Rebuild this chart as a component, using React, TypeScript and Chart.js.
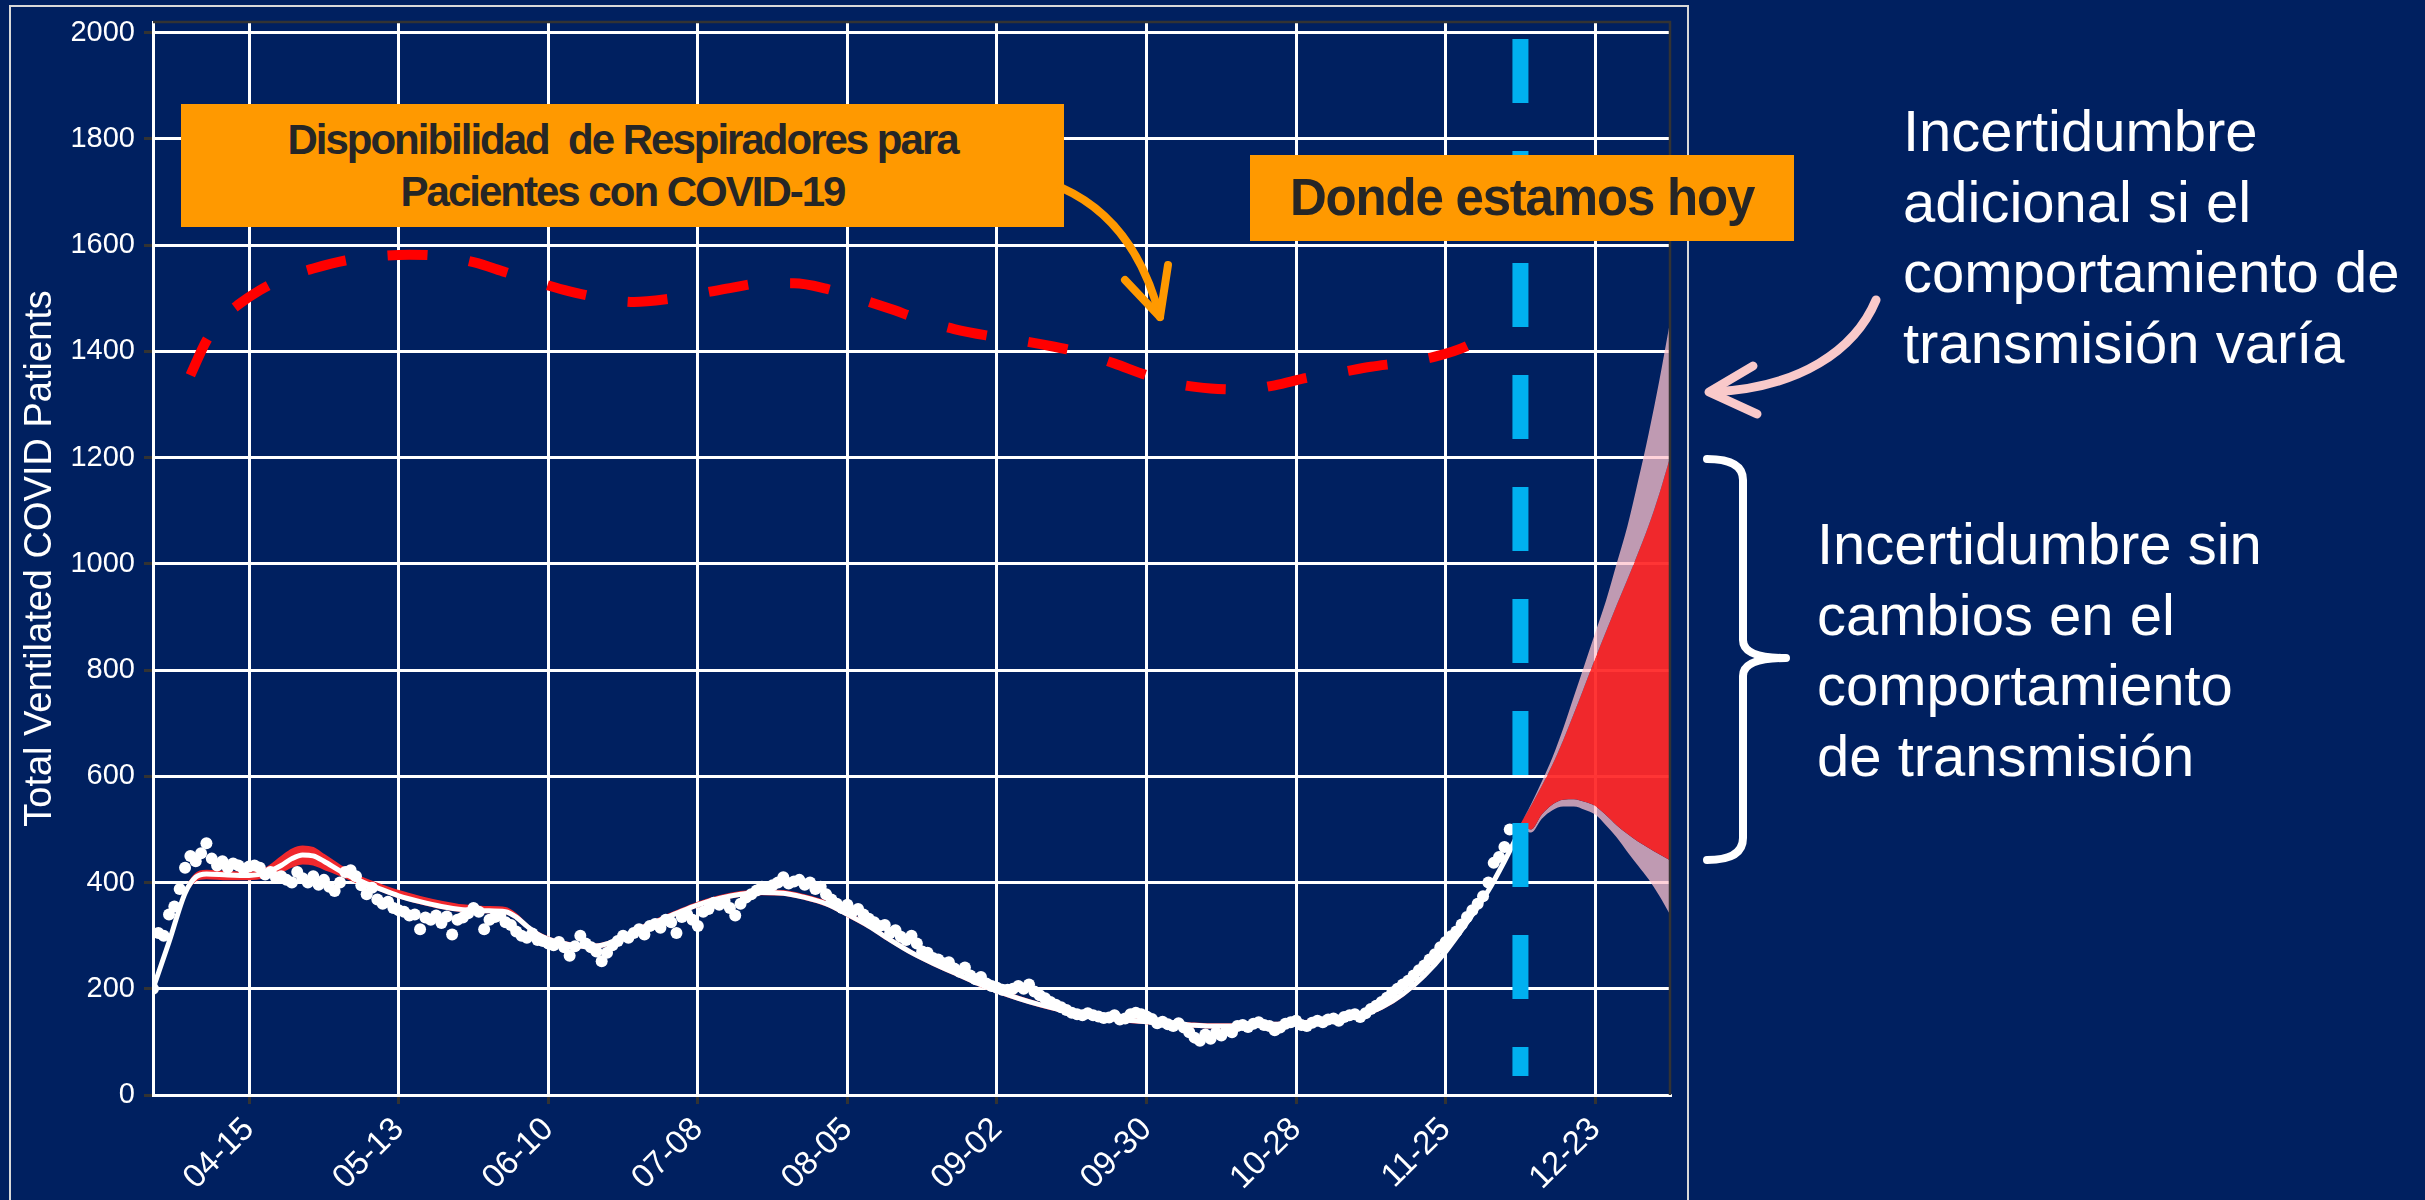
import React, { useEffect, useRef } from 'react';
import { Chart, registerables } from 'chart.js';

Chart.register(...registerables);

const FONT = '"Liberation Sans", Arial, Helvetica, sans-serif';

// x axis: days since 03-28
const xMinDay = 0;
const xMaxDay = 284;
const xTickDays = [18, 46, 74, 102, 130, 158, 186, 214, 242, 270];
const xTickLabels = ['04-15', '05-13', '06-10', '07-08', '08-05', '09-02', '09-30', '10-28', '11-25', '12-23'];
const yMinValue = 0;
const yMaxValue = 2020;
const yTickValues = [0, 200, 400, 600, 800, 1000, 1200, 1400, 1600, 1800, 2000];
const yAxisTitle = 'Total Ventilated COVID Patients';

// observed daily values, starting at day 0 (03-28)
const observedStartDay = 0;
const observedValues = [
  200, 305, 300, 340, 355, 388, 428, 450, 440, 455,
  474, 445, 432, 440, 428, 436, 432, 425, 430, 432,
  428, 415, 420, 410, 412, 405, 400, 420, 408, 400,
  412, 396, 405, 392, 384, 400, 420, 423, 412, 395,
  378, 390, 368, 360, 364, 352, 348, 345, 338, 340,
  312, 334, 330, 338, 324, 336, 302, 330, 334, 342,
  352, 345, 312, 330, 335, 338, 325, 320, 308, 300,
  296, 304, 292, 290, 285, 282, 288, 278, 262, 280,
  300, 285, 278, 270, 252, 268, 282, 290, 300, 296,
  305, 312, 302, 318, 322, 315, 330, 325, 305, 335,
  340, 330, 318, 345, 350, 362, 358, 365, 352, 338,
  360, 372, 378, 385, 392, 388, 395, 400, 410, 398,
  402, 405, 396, 400, 388, 392, 378, 368, 360, 352,
  358, 346, 350, 340, 332, 325, 318, 320, 305, 310,
  298, 292, 300, 285, 270, 268, 258, 255, 248, 250,
  238, 232, 240, 225, 218, 222, 210, 205, 202, 198,
  198, 200, 205, 200, 208, 195, 188, 182, 175, 170,
  165, 160, 155, 152, 150, 154, 150, 148, 145, 146,
  150, 142, 144, 152, 155, 152, 148, 143, 135, 138,
  133, 130, 135, 127, 118, 108, 102, 114, 106, 117,
  112, 122, 118, 130, 132, 128, 134, 137, 132, 130,
  122, 127, 134, 137, 140, 132, 130, 136, 140, 137,
  142, 144, 140, 147, 150, 152, 147, 154, 162, 168,
  175, 183, 193, 200, 208, 215, 225, 235, 244, 255,
  265, 278, 288, 299, 308, 321, 335, 348, 360, 374,
  400, 437, 448, 467, 500,
];

// model fit (white line) and its narrow red band
const fitDays = [
  0, 3, 6, 8, 10, 14, 18, 21, 24, 26,
  28, 30, 32, 35, 38, 42, 46, 50, 54, 58,
  62, 66, 68, 70, 72, 75, 78, 81, 84, 87,
  90, 94, 98, 102, 106, 110, 114, 118, 122, 126,
  130, 134, 138, 142, 146, 150, 154, 158, 162, 166,
  170, 174, 178, 182, 186, 190, 194, 198, 202, 206,
  210, 214, 218, 222, 226, 230, 234, 238, 242, 246,
  250, 253, 256,
];
const fitValues = [
  200, 288, 380, 410, 416, 414, 413, 418, 432, 445,
  452, 450, 440, 422, 406, 390, 375, 364, 355, 349,
  347, 345, 335, 318, 303, 290, 283, 280, 282, 292,
  308, 325, 342, 358, 370, 378, 381, 380, 372, 360,
  340, 318, 292, 268, 248, 230, 212, 196, 182, 170,
  160, 152, 146, 141, 138, 135, 132, 130, 130, 131,
  133, 135, 138, 142, 150, 165, 190, 225, 270, 325,
  385, 440, 500,
];
const fitUpper = [
  202, 291, 384, 416, 422, 420, 419, 426, 448, 462,
  468, 465, 452, 432, 414, 398, 384, 373, 364, 357,
  354, 352, 340, 321, 306, 293, 286, 283, 285, 295,
  311, 329, 346, 362, 374, 382, 385, 384, 376, 364,
  344, 321, 295, 271, 251, 233, 215, 199, 185, 173,
  163, 155, 149, 144, 141, 138, 135, 133, 133, 134,
  136, 138, 141, 145, 153, 168, 193, 228, 273, 328,
  388, 443, 503,
];
const fitLower = [
  198, 285, 376, 404, 408, 406, 406, 410, 420, 430,
  436, 434, 426, 414, 401, 387, 372, 361, 352, 346,
  344, 342, 332, 315, 300, 287, 280, 277, 279, 289,
  305, 322, 339, 355, 367, 375, 378, 377, 369, 357,
  337, 315, 289, 265, 245, 227, 209, 193, 179, 167,
  157, 149, 143, 138, 135, 132, 129, 127, 127, 128,
  130, 132, 135, 139, 147, 162, 187, 222, 267, 322,
  382, 437, 497,
];

// ventilator availability (dashed red)
const capacityDays = [
  7, 10, 13, 16, 20, 25, 30, 36, 42, 48,
  54, 60, 66, 72, 78, 84, 90, 96, 102, 108,
  114, 120, 126, 132, 138, 144, 150, 156, 162, 168,
  174, 180, 186, 192, 198, 204, 210, 216, 222, 228,
  234, 240, 246, 250,
];
const capacityValues = [
  1355, 1420, 1462, 1488, 1515, 1540, 1556, 1571, 1579, 1582,
  1579, 1568, 1549, 1530, 1513, 1500, 1493, 1498, 1508, 1519,
  1528, 1528, 1518, 1500, 1480, 1459, 1442, 1430, 1421, 1410,
  1397, 1377, 1355, 1338, 1330, 1328, 1336, 1350, 1360, 1371,
  1379, 1390, 1410, 1435,
];

// "today" marker (12-09)
const todayDay = 256;
const todayLineTop = 1988;
const todayLineBottom = 36;

// forecast bands
const forecastDays = [256, 258, 260, 262, 264, 266, 268, 270, 272, 274, 276, 278, 280, 282, 284];
const forecastOuterUpper = [510, 548, 590, 636, 690, 750, 810, 870, 930, 1000, 1070, 1155, 1245, 1345, 1455];
const forecastInnerUpper = [510, 545, 582, 622, 668, 718, 770, 822, 872, 922, 970, 1020, 1072, 1132, 1200];
const forecastInnerLower = [505, 500, 528, 547, 556, 557, 552, 544, 527, 508, 492, 477, 465, 453, 442];
const forecastOuterLower = [505, 494, 520, 536, 543, 543, 537, 528, 508, 485, 458, 432, 406, 375, 340];

const NAVY = '#002060';
const ORANGE = '#FF9900';
const RED = '#F0282D';
const RED_T = 'rgba(255, 40, 40, 0.94)';
const MAUVE = 'rgba(255, 195, 205, 0.75)';
const CLEAR = 'rgba(0,0,0,0)';

const panelBorder = {
  id: 'panelBorder',
  afterDatasetsDraw(chart: any) {
    const { ctx, chartArea } = chart;
    const { left, top, right, bottom } = chartArea;
    ctx.save();
    ctx.strokeStyle = '#333333';
    ctx.lineWidth = 2.5;
    ctx.beginPath();
    ctx.moveTo(left, top);
    ctx.lineTo(right, top);
    ctx.lineTo(right, bottom);
    ctx.stroke();
    ctx.restore();
  },
};

export default function App() {
  const canvasRef = useRef<HTMLCanvasElement | null>(null);

  useEffect(() => {
    const canvas = canvasRef.current;
    if (!canvas) return;
    const xy = (days: number[], vals: number[]) => days.map((d, i) => ({ x: d, y: vals[i] }));
    const observed = observedValues.map((v, i) => ({ x: observedStartDay + i, y: v }));

    Chart.defaults.font.family = FONT;

    const chart = new Chart(canvas, {
      type: 'line',
      data: {
        datasets: [
          {
            label: 'Hoy',
            data: [{ x: todayDay, y: todayLineTop }, { x: todayDay, y: todayLineBottom }],
            borderColor: '#00B0F0',
            borderWidth: 16,
            borderDash: [64, 48],
            borderCapStyle: 'butt',
            pointRadius: 0,
            fill: false,
          },
          {
            label: 'Observado',
            data: observed,
            showLine: false,
            pointRadius: 6,
            pointBackgroundColor: '#FFFFFF',
            pointBorderColor: '#FFFFFF',
            pointBorderWidth: 0,
            fill: false,
          },
          {
            label: 'Ajuste',
            data: xy(fitDays, fitValues),
            borderColor: '#FFFFFF',
            borderWidth: 5,
            pointRadius: 0,
            cubicInterpolationMode: 'monotone',
            fill: false,
          },
          {
            label: 'Ajuste sup',
            data: xy(fitDays, fitUpper),
            borderColor: RED,
            borderWidth: 2,
            backgroundColor: RED,
            pointRadius: 0,
            cubicInterpolationMode: 'monotone',
            fill: 4,
          },
          {
            label: 'Ajuste inf',
            data: xy(fitDays, fitLower),
            borderColor: RED,
            borderWidth: 2,
            pointRadius: 0,
            cubicInterpolationMode: 'monotone',
            fill: false,
          },
          {
            label: 'Extremo superior',
            data: xy(forecastDays, forecastOuterUpper),
            borderColor: CLEAR,
            borderWidth: 1,
            backgroundColor: MAUVE,
            pointRadius: 0,
            cubicInterpolationMode: 'monotone',
            fill: 6,
          },
          {
            label: 'Superior',
            data: xy(forecastDays, forecastInnerUpper),
            borderColor: CLEAR,
            borderWidth: 1,
            backgroundColor: RED_T,
            pointRadius: 0,
            cubicInterpolationMode: 'monotone',
            fill: 7,
          },
          {
            label: 'Inferior',
            data: xy(forecastDays, forecastInnerLower),
            borderColor: CLEAR,
            borderWidth: 1,
            backgroundColor: MAUVE,
            pointRadius: 0,
            cubicInterpolationMode: 'monotone',
            fill: 8,
          },
          {
            label: 'Extremo inferior',
            data: xy(forecastDays, forecastOuterLower),
            borderColor: CLEAR,
            borderWidth: 1,
            pointRadius: 0,
            cubicInterpolationMode: 'monotone',
            fill: false,
          },
          {
            label: 'Disponibilidad',
            data: xy(capacityDays, capacityValues),
            borderColor: '#FF0000',
            borderWidth: 10,
            borderDash: [40, 42],
            borderCapStyle: 'butt',
            pointRadius: 0,
            cubicInterpolationMode: 'monotone',
            fill: false,
          },
        ],
      },
      options: {
        responsive: false,
        animation: false,
        events: [],
        layout: { padding: { left: 0, top: 22, right: 755, bottom: 0 } },
        plugins: {
          legend: { display: false },
          tooltip: { enabled: false },
        },
        scales: {
          x: {
            type: 'linear',
            min: xMinDay,
            max: xMaxDay,
            afterBuildTicks: (scale: any) => {
              scale.ticks = xTickDays.map((v) => ({ value: v }));
            },
            afterFit: (scale: any) => {
              scale.height = 105;
              scale.paddingLeft = 0;
              scale.paddingRight = 0;
            },
            grid: { color: '#FFFFFF', lineWidth: 3, tickColor: '#333333', tickLength: 9, tickWidth: 3 },
            border: { color: '#FFFFFF', width: 3 },
            ticks: {
              color: '#FFFFFF',
              font: { family: FONT, size: 33 },
              minRotation: 45,
              maxRotation: 45,
              autoSkip: false,
              padding: 6,
              callback: (value: any) => {
                const i = xTickDays.indexOf(Number(value));
                return i >= 0 ? xTickLabels[i] : '';
              },
            },
          },
          y: {
            type: 'linear',
            min: yMinValue,
            max: yMaxValue,
            afterBuildTicks: (scale: any) => {
              scale.ticks = yTickValues.map((v) => ({ value: v }));
            },
            afterFit: (scale: any) => {
              scale.width = 153;
              scale.paddingTop = 0;
              scale.paddingBottom = 0;
            },
            grid: { color: '#FFFFFF', lineWidth: 3, tickColor: '#333333', tickLength: 9, tickWidth: 3 },
            border: { color: '#FFFFFF', width: 3 },
            ticks: {
              color: '#FFFFFF',
              font: { family: FONT, size: 29 },
              padding: 9,
              autoSkip: false,
              callback: (value: any) => String(value),
            },
            title: {
              display: true,
              text: yAxisTitle,
              color: '#FFFFFF',
              font: { family: FONT, size: 38 },
              padding: { top: 18, bottom: 0 },
            },
          },
        },
      },
      plugins: [panelBorder],
    } as any);

    return () => chart.destroy();
  }, []);

  const textBase: React.CSSProperties = {
    position: 'absolute',
    fontFamily: FONT,
    whiteSpace: 'pre',
    margin: 0,
  };

  return (
    <div
      style={{
        position: 'absolute',
        left: 0,
        top: 0,
        width: 2425,
        height: 1200,
        background: NAVY,
        overflow: 'hidden',
      }}
    >
      <div
        style={{
          position: 'absolute',
          left: 9,
          top: 5,
          width: 1680,
          height: 1300,
          border: '2px solid #D9D9D9',
          boxSizing: 'border-box',
        }}
      />
      <canvas
        ref={canvasRef}
        width={2425}
        height={1200}
        style={{ position: 'absolute', left: 0, top: 0, width: 2425, height: 1200 }}
      />
      <div
        style={{
          ...textBase,
          left: 181,
          top: 104,
          width: 883,
          height: 123,
          paddingTop: 10,
          boxSizing: 'border-box',
          background: ORANGE,
          color: '#262626',
          fontSize: 42,
          fontWeight: 'bold',
          letterSpacing: '-2px',
          lineHeight: '52px',
          textAlign: 'center',
        }}
      >
        {'Disponibilidad  de Respiradores para\nPacientes con COVID-19'}
      </div>
      <div
        style={{
          ...textBase,
          left: 1250,
          top: 155,
          width: 544,
          height: 86,
          background: ORANGE,
          color: '#262626',
          fontSize: 51,
          fontWeight: 'bold',
          letterSpacing: '-1.2px',
          lineHeight: '86px',
          textAlign: 'center',
        }}
      >
        Donde estamos hoy
      </div>
      <svg
        width={2425}
        height={1200}
        style={{ position: 'absolute', left: 0, top: 0, pointerEvents: 'none' }}
      >
        <path d="M 1062 188 C 1100 205 1140 240 1160 317" stroke={ORANGE} strokeWidth={8} fill="none" strokeLinecap="round" />
        <path d="M 1125 280 L 1160 317 L 1168 265" stroke={ORANGE} strokeWidth={8} fill="none" strokeLinecap="round" strokeLinejoin="round" />
        <path d="M 1876 300 C 1855 350 1800 388 1712 392" stroke="#F9C9CA" strokeWidth={9} fill="none" strokeLinecap="round" />
        <path d="M 1753 366 L 1709 392 L 1757 414" stroke="#F9C9CA" strokeWidth={9} fill="none" strokeLinecap="round" strokeLinejoin="round" />
        <path
          d="M 1707 459 Q 1743 459 1743 480 L 1743 640 Q 1743 658 1786 658 Q 1743 658 1743 676 L 1743 838 Q 1743 860 1707 860"
          stroke="#FFFFFF"
          strokeWidth={8}
          fill="none"
          strokeLinecap="round"
          strokeLinejoin="round"
        />
      </svg>
      <div
        style={{
          ...textBase,
          left: 1903,
          top: 96,
          color: '#FFFFFF',
          fontSize: 58,
          lineHeight: '70.5px',
        }}
      >
        {'Incertidumbre\nadicional si el\ncomportamiento de\ntransmisión varía'}
      </div>
      <div
        style={{
          ...textBase,
          left: 1817,
          top: 509,
          color: '#FFFFFF',
          fontSize: 58,
          lineHeight: '70.5px',
        }}
      >
        {'Incertidumbre sin\ncambios en el\ncomportamiento\nde transmisión'}
      </div>
    </div>
  );
}
